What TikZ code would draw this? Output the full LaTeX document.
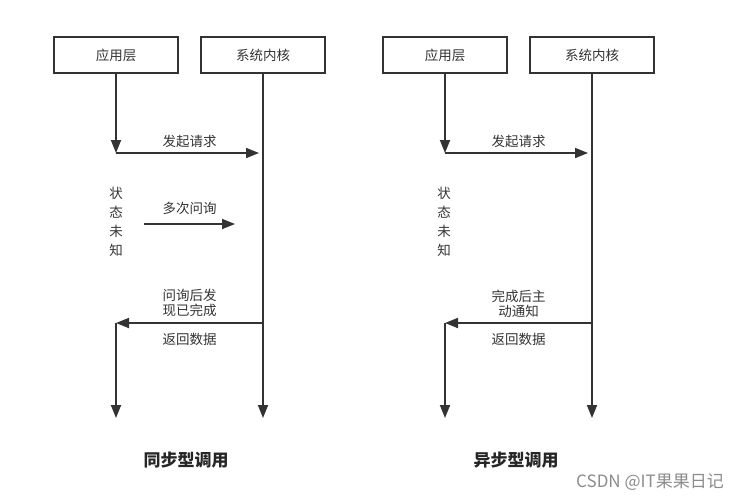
\documentclass[tikz,border=0pt]{standalone}
\usepackage{fontspec}
\setmainfont{Noto Sans CJK SC}
\usetikzlibrary{arrows.meta, positioning}

\begin{document}
\begin{tikzpicture}[ x=1pt, y=-1pt, >={Triangle[length=13pt, width=10pt]}, layer/.style={draw=black!80, line width=1.8pt, minimum width=124pt, minimum height=36pt, font=\fontsize{13.5}{15}\selectfont, text=black!80}, flow/.style={draw=black!80, line width=1.8pt}, lbl/.style={font=\fontsize{13.5}{15}\selectfont, text=black!80, align=center, inner sep=0pt}, state/.style={lbl, font=\fontsize{13.5}{19}\selectfont}, title/.style={font=\fontsize{17}{20}\selectfont\bfseries, text=black!85} ]
		\useasboundingbox (0,0) rectangle (748,501);
		% Synchronous call
		\node[layer] (app1) at (116,55) {应用层};
		\node[layer] (kern1) at (263,55) {系统内核};
		\coordinate (ask1) at (117,153);
		\coordinate (back1) at (117,323);
		\coordinate (end1) at (117,418);
		\draw[->, flow] (app1.south) -- (app1.south |- ask1);
		\draw[->, flow, shorten >=4pt] (app1.south |- ask1) -- node[lbl, above=4pt] {发起请求} (kern1.south |- ask1);
		\draw[->, flow] (kern1.south) -- (kern1.south |- end1);
		\node[state] (wait1) at (116,222) {状\\态\\未\\知};
		\coordinate (poll1a) at (144,224);
		\coordinate (poll1b) at (235,224);
		\draw[->, flow] (poll1a) -- node[lbl, above=8pt] {多次问询} (poll1b);
		\draw[->, flow] (kern1.south |- back1) -- node[lbl, above=5pt] {问询后发\\现已完成} node[lbl, below=9pt] {返回数据} (app1.south |- back1);
		\draw[->, flow] (app1.south |- back1) -- (app1.south |- end1);
		\node[title] (sync) at (186,460) {同步型调用};
		% Asynchronous call
		\node[layer] (app2) at (445,55) {应用层};
		\node[layer] (kern2) at (592,55) {系统内核};
		\coordinate (ask2) at (445,153);
		\coordinate (back2) at (445,323);
		\coordinate (end2) at (445,418);
		\draw[->, flow] (app2.south) -- (app2.south |- ask2);
		\draw[->, flow, shorten >=4pt] (app2.south |- ask2) -- node[lbl, above=4pt] {发起请求} (kern2.south |- ask2);
		\draw[->, flow] (kern2.south) -- (kern2.south |- end2);
		\node[state] (wait2) at (444,222) {状\\态\\未\\知};
		\draw[->, flow] (kern2.south |- back2) -- node[lbl, above=5pt] {完成后主\\动通知} node[lbl, below=9pt] {返回数据} (app2.south |- back2);
		\draw[->, flow] (app2.south |- back2) -- (app2.south |- end2);
		\node[title] (async) at (516,460) {异步型调用};
		% watermark
		\node[font=\fontsize{17}{20}\selectfont, text=black!45] (mark) at (650,482) {CSDN @IT果果日记};
\end{tikzpicture}
\end{document}
